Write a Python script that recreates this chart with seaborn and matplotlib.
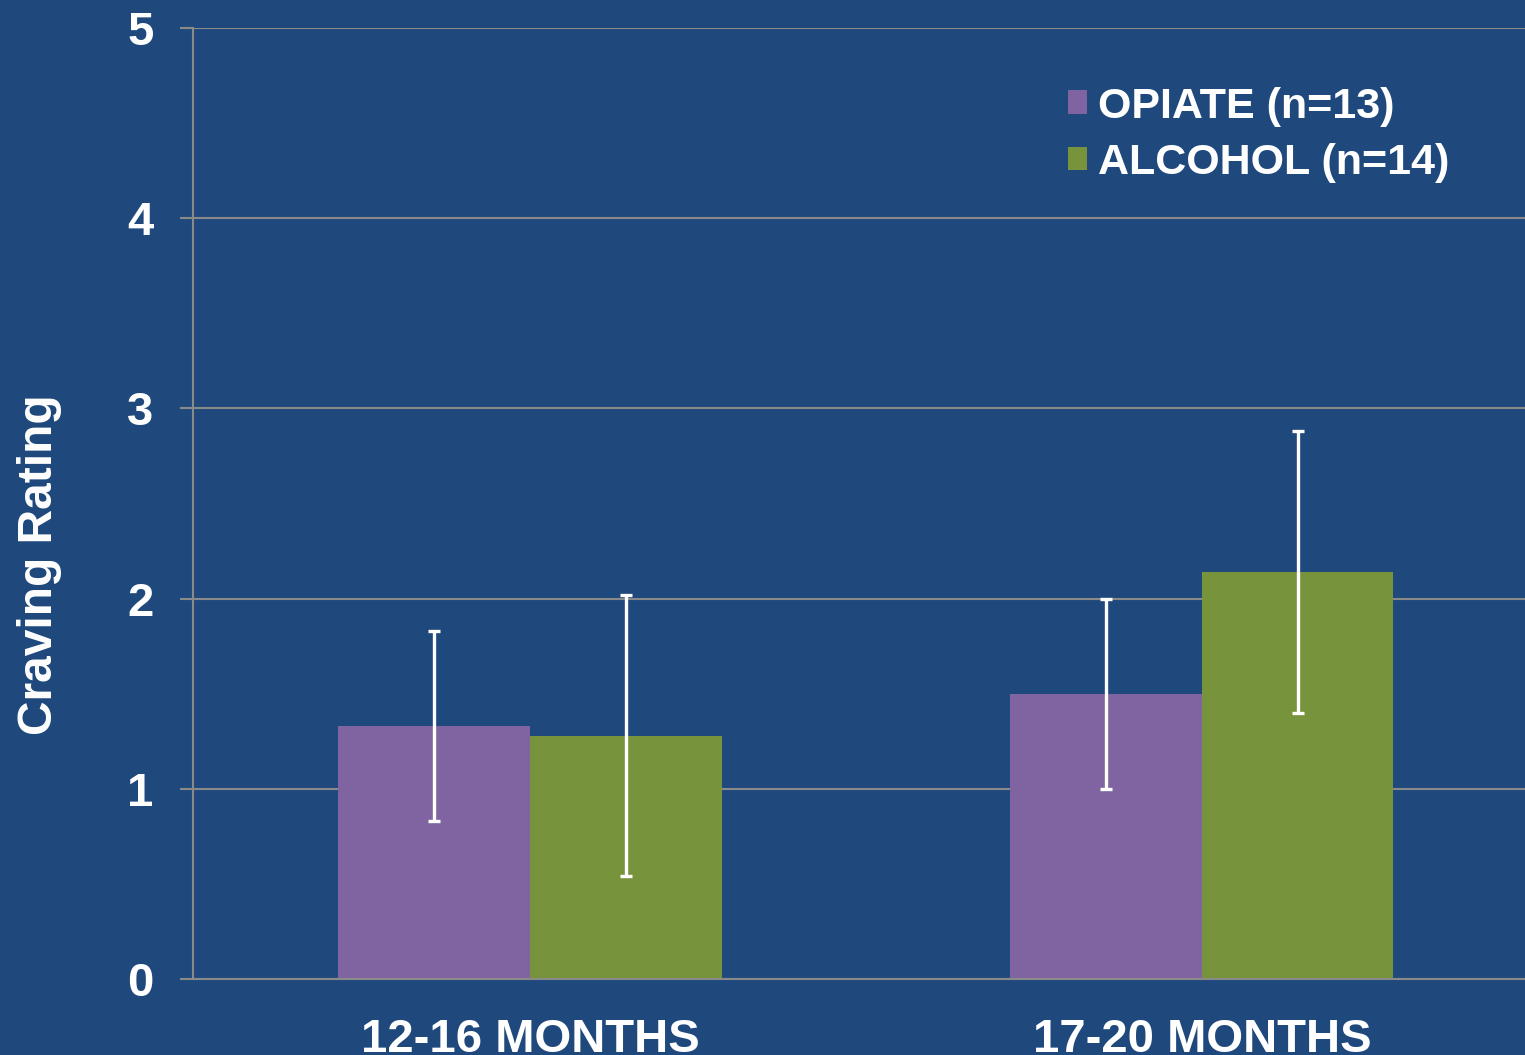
import matplotlib
matplotlib.use("Agg")
import matplotlib.pyplot as plt
import seaborn as sns
import pandas as pd

# Werte
periods = ["12-16 MONTHS", "17-20 MONTHS"]
groups = ["OPIATE (n=13)", "ALCOHOL (n=14)"]
opiate_mean = [1.33, 1.50]
alcohol_mean = [1.28, 2.14]
opiate_err = [0.50, 0.50]
alcohol_err = [0.74, 0.74]

BG = "#1F497C"
GRID = "#8A8A8A"
COLORS = ["#8064A2", "#77933C"]

sns.set_style("white", {"axes.facecolor": BG, "figure.facecolor": BG})
plt.rcParams["font.family"] = ["Liberation Sans", "DejaVu Sans"]
plt.rcParams["font.weight"] = "bold"

df = pd.DataFrame({
    "period": periods * 2,
    "group": [groups[0]] * 2 + [groups[1]] * 2,
    "rating": opiate_mean + alcohol_mean,
})
errs = [opiate_err, alcohol_err]

fig = plt.figure(figsize=(15.25, 10.55), dpi=100)
ax = fig.add_axes([193 / 1525, 1 - 979 / 1055, 1 - 193 / 1525, (979 - 28) / 1055])

sns.barplot(data=df, x="period", y="rating", hue="group", order=periods,
            hue_order=groups, palette=COLORS, width=0.57, saturation=1,
            errorbar=None, ax=ax, zorder=2, linewidth=0, edgecolor="none")

for container, err in zip(ax.containers, errs):
    xs = [b.get_x() + b.get_width() / 2 for b in container]
    ys = [b.get_height() for b in container]
    ax.errorbar(xs, ys, yerr=err, fmt="none", ecolor="white",
                elinewidth=2.4, capsize=4.3, capthick=2.4, zorder=3)

ax.set_ylim(0, 5)
ax.set_xlim(-0.5015, 1.4807)
ax.set_yticks([0, 1, 2, 3, 4, 5])
ax.set_axisbelow(True)
ax.yaxis.grid(True, color=GRID, linewidth=1.5)
ax.xaxis.grid(False)

for side in ["top", "right"]:
    ax.spines[side].set_visible(False)
for side in ["left", "bottom"]:
    ax.spines[side].set_color(GRID)
    ax.spines[side].set_linewidth(1.5)

ax.tick_params(axis="y", left=True, direction="out", length=9.5, width=1.5,
               color=GRID, pad=19, labelsize=34, labelcolor="white")
ax.tick_params(axis="x", length=0, pad=28, labelsize=34, labelcolor="white")
for lab in ax.get_xticklabels() + ax.get_yticklabels():
    lab.set_fontweight("bold")

ax.set_xlabel("")
ax.set_ylabel("Craving Rating", fontsize=34.5, fontweight="bold", color="white")
ax.yaxis.set_label_coords(-0.098, 0.436)

leg = ax.legend(loc="upper left", bbox_to_anchor=(0.700, 0.918),
                bbox_transform=fig.transFigure, frameon=False,
                prop={"size": 31, "weight": "bold"}, labelcolor="white",
                handlelength=0.46, handleheight=0.46, handletextpad=0.25,
                labelspacing=0.38, borderpad=0, borderaxespad=0)
for h in leg.legend_handles:
    h.set_edgecolor("none")
    h.set_linewidth(0)

fig.savefig("out.png", dpi=100, facecolor=BG)
plt.close(fig)
